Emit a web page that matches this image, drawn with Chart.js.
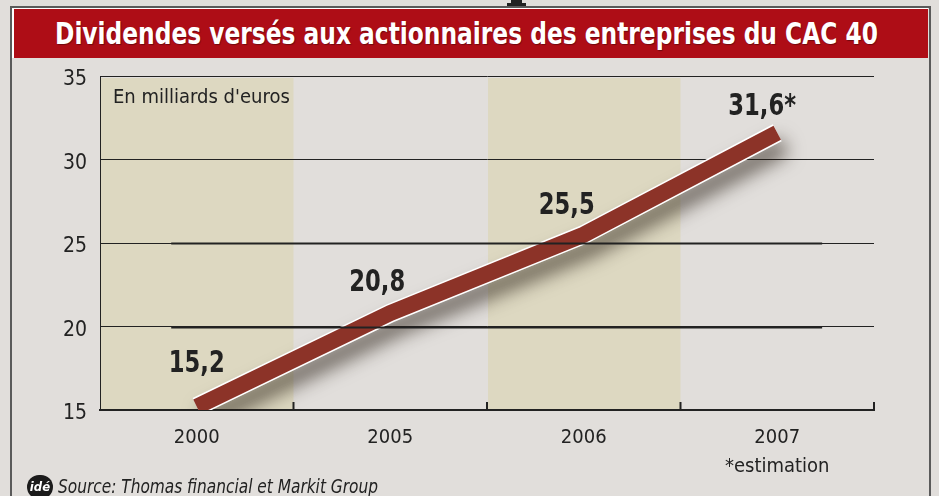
<!DOCTYPE html>
<html lang="fr">
<head>
  <meta charset="UTF-8" />
  <title>Dividendes CAC 40</title>
  <script src="https://cdn.jsdelivr.net/npm/chart.js"></script>
  <style>
    html, body { margin: 0; padding: 0; }
    body {
      width: 939px; height: 496px; overflow: hidden; position: relative;
      background: #e1dedb;
      font-family: "Liberation Sans Narrow", "DejaVu Sans Condensed", "Liberation Sans", sans-serif;
    }
    .frame {
      position: absolute; left: 10px; top: 6px; width: 917px; height: 520px;
      border: 2px solid #5a5a5a; border-bottom: none;
    }
    .banner {
      position: absolute; left: 12px; top: 8px; width: 914px; height: 49px;
      background: #ae0d16; border-left: 2px solid #fff; border-top: 1px solid #fff;
      overflow: hidden;
    }
    .banner span {
      position: absolute; left: 0; top: 0; white-space: nowrap;
      color: #fff; font-weight: bold; font-size: 31px; line-height: 49px;
      text-shadow: 1px 1px 1px rgba(0,0,0,0.35); transform-origin: 0 50%;
    }
    .cut1 { position: absolute; left: 511px; top: 0; width: 11px; height: 4px; background: #222; }
    .cut2 { position: absolute; left: 507px; top: 3px; width: 19px; height: 3px; background: #222; }
    #chart { position: absolute; left: 0; top: 0; }
    .source {
      position: absolute; left: 27px; top: 475px; font-size: 19px; color: #222;
      white-space: nowrap;
    }
    .source i { display: inline-block; transform: scaleX(0.9); transform-origin: 0 50%; }
    .logo {
      display: inline-block; width: 26px; height: 24px; border-radius: 13px; background: #1b1b1b;
      color: #fff; font-size: 13px; font-weight: bold; font-style: italic; text-align: center; line-height: 23px;
      vertical-align: top; margin-right: 5px;
    }
  </style>
</head>
<body>
  <div class="cut1"></div><div class="cut2"></div>
  <div class="frame"></div>
  <div class="banner"><span id="title">Dividendes versés aux actionnaires des entreprises du CAC 40</span></div>
  <canvas id="chart" width="939" height="496"></canvas>
  <div class="source"><span class="logo">idé</span><i>Source: Thomas financial et Markit Group</i></div>

  <script>
    // data
    const years = ['2000', '2005', '2006', ['2007', '*estimation']];
    const dividends = [15.2, 20.8, 25.5, 31.6];
    const estimated = [false, false, false, true];
    const shadedYears = [0, 2];
    const yTicks = { min: 15, max: 35, step: 5 };
    const unitNote = "En milliards d'euros";

    const FONT = '"Liberation Sans Narrow", "DejaVu Sans Condensed", "Liberation Sans", sans-serif';
    const INK = '#222';

    // squeeze the title into the width it has in the original
    const title = document.getElementById('title');
    const tw = title.getBoundingClientRect().width;
    const target = 823;
    title.style.transform = 'scaleX(' + (target / tw) + ')';
    title.style.left = (466 - 14 - target / 2) + 'px';

    // beige columns, unit note, small ticks, value labels
    const decor = {
      id: 'decor',
      beforeDraw(chart) {
        const { ctx, chartArea, scales: { x } } = chart;
        const w = x.getPixelForValue(1) - x.getPixelForValue(0);
        ctx.save();
        ctx.fillStyle = '#ddd8c1';
        shadedYears.forEach(i => {
          const cx = x.getPixelForValue(i);
          ctx.fillRect(cx - w / 2 + 1, chartArea.top + 2, w - 1, chartArea.bottom - chartArea.top - 2);
        });
        ctx.fillStyle = INK;
        ctx.font = '20px ' + FONT;
        ctx.textBaseline = 'middle';
        ctx.fillText(unitNote, chartArea.left + 13, chartArea.top + 22);
        ctx.restore();
      },
      afterDraw(chart) {
        const { ctx, chartArea, scales: { x, y } } = chart;
        const w = x.getPixelForValue(1) - x.getPixelForValue(0);
        ctx.save();
        ctx.strokeStyle = INK;
        // heavier segments on the 20 and 25 lines
        ctx.lineWidth = 2;
        const span = chartArea.right - chartArea.left;
        [20, 25].forEach(v => {
          const py = Math.round(y.getPixelForValue(v)) + 0.5;
          ctx.beginPath();
          ctx.moveTo(chartArea.left + span * 0.092, py);
          ctx.lineTo(chartArea.left + span * 0.933, py);
          ctx.stroke();
        });
        // tick marks between years
        ctx.lineWidth = 2;
        years.forEach((_, i) => {
          const bx = x.getPixelForValue(i) + w / 2;
          ctx.beginPath();
          ctx.moveTo(bx, chartArea.bottom - 8);
          ctx.lineTo(bx, chartArea.bottom);
          ctx.stroke();
        });
        ctx.restore();
      },
      afterDatasetsDraw(chart) {
        const { ctx, scales: { x, y } } = chart;
        const dx = [0, -13, -17, -21];
        const dy = [-42, -30, -28, -26];
        const sx = 0.84;
        ctx.save();
        ctx.fillStyle = INK;
        ctx.font = 'bold 30px ' + FONT;
        ctx.textAlign = 'center';
        ctx.textBaseline = 'middle';
        dividends.forEach((v, i) => {
          let txt = v.toFixed(1).replace('.', ',');
          if (estimated[i]) txt += '*';
          const shift = estimated[i] ? ctx.measureText('*').width * sx / 2 : 0;
          const px = x.getPixelForValue(i) + dx[i] + shift;
          const py = y.getPixelForValue(v) + dy[i];
          ctx.setTransform(sx, 0, 0, 1, px, py);
          ctx.fillText(txt, 0, 0);
        });
        ctx.restore();
      },
      beforeDatasetDraw(chart, args) {
        if (args.index !== 0) return;
        const ctx = chart.ctx;
        ctx.save();
        ctx.shadowColor = 'rgba(40,30,20,0.6)';
        ctx.shadowBlur = 18;
        ctx.shadowOffsetX = 7;
        ctx.shadowOffsetY = 13;
      },
      afterDatasetDraw(chart, args) {
        if (args.index !== 0) return;
        chart.ctx.restore();
      }
    };

    new Chart(document.getElementById('chart'), {
      type: 'line',
      data: {
        labels: years,
        datasets: [
          {
            // white edge with the drop shadow, drawn first
            data: dividends,
            order: 2,
            borderColor: '#ffffff',
            borderWidth: 19,
            borderCapStyle: 'butt',
            borderJoinStyle: 'miter',
            pointRadius: 0,
            tension: 0
          },
          {
            data: dividends,
            order: 1,
            borderColor: '#8c3328',
            borderWidth: 16,
            borderCapStyle: 'butt',
            borderJoinStyle: 'miter',
            pointRadius: 0,
            tension: 0
          }
        ]
      },
      options: {
        responsive: false,
        animation: false,
        devicePixelRatio: 1,
        layout: { padding: { left: 0, right: 65, top: 76, bottom: 0 } },
        plugins: { legend: { display: false }, tooltip: { enabled: false } },
        scales: {
          x: {
            offset: true,
            grid: { display: false },
            border: { display: true, color: INK, width: 2 },
            ticks: {
              color: INK, padding: 5,
              font: { family: FONT, size: 20, lineHeight: 1.45 }
            },
            afterFit(scale) { scale.height = 86; }
          },
          y: {
            min: yTicks.min, max: yTicks.max,
            grid: { color: INK, lineWidth: 1, drawTicks: false },
            border: { display: true, color: INK, width: 1 },
            ticks: {
              stepSize: yTicks.step, color: INK, padding: 13, labelOffset: 4,
              font: { family: FONT, size: 21 }
            },
            afterFit(scale) { scale.width = 100; }
          }
        }
      },
      plugins: [decor]
    });
  </script>
</body>
</html>
